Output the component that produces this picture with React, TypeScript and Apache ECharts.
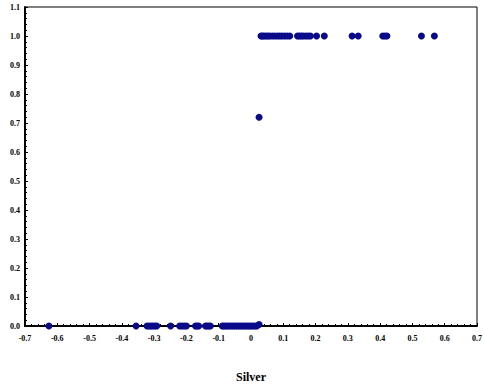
import React, { useEffect, useRef } from "react";
import * as echarts from "echarts";

const xTicks = { min: -0.7, max: 0.7, interval: 0.1 };
const yTicks = { min: 0, max: 1.1, interval: 0.1 };

const silverAtZero = [
  -0.626, -0.356, -0.322, -0.316, -0.31, -0.304, -0.298, -0.292, -0.249, -0.221,
  -0.214, -0.207, -0.2, -0.172, -0.167, -0.162, -0.141, -0.136, -0.131, -0.126,
  -0.089, -0.084, -0.078, -0.072, -0.066, -0.06, -0.054, -0.048, -0.042, -0.036,
  -0.03, -0.024, -0.018, -0.012, -0.006, 0, 0.006, 0.012, 0.018,
];
const silverAtOne = [
  0.031, 0.035, 0.04, 0.046, 0.052, 0.058, 0.066, 0.074, 0.082, 0.089, 0.096,
  0.104, 0.112, 0.12, 0.144, 0.15, 0.156, 0.162, 0.17, 0.177, 0.184, 0.203,
  0.227, 0.313, 0.332, 0.408, 0.415, 0.421, 0.528, 0.568,
];
const otherPoints: [number, number][] = [
  [0.025, 0.005],
  [0.025, 0.72],
];

export default function App() {
  const ref = useRef<HTMLDivElement>(null);
  useEffect(() => {
    if (!ref.current) return;
    const chart = echarts.init(ref.current, undefined, { renderer: "svg" });
    const data: [number, number][] = [
      ...silverAtZero.map((x) => [x, 0] as [number, number]),
      ...silverAtOne.map((x) => [x, 1] as [number, number]),
      ...otherPoints,
    ];
    const labelStyle = {
      fontFamily: "Liberation Serif",
      fontWeight: "bold" as const,
      fontSize: 8,
      color: "#000",
    };
    chart.setOption({
      animation: false,
      backgroundColor: "#fff",
      grid: {
        left: 25,
        right: 4,
        top: 7,
        bottom: 63,
        show: true,
        borderColor: "#000",
        borderWidth: 1,
      },
      xAxis: {
        type: "value",
        min: xTicks.min,
        max: xTicks.max,
        interval: xTicks.interval,
        name: "Silver",
        nameLocation: "middle",
        nameGap: 45,
        nameTextStyle: {
          fontFamily: "Liberation Serif",
          fontWeight: "bold",
          fontSize: 12,
          color: "#000",
        },
        axisLine: { onZero: false, lineStyle: { color: "#000", width: 2 } },
        axisTick: { inside: true, length: 3, lineStyle: { color: "#000" } },
        minorTick: { show: true, splitNumber: 5, length: 2, lineStyle: { color: "#000" } },
        splitLine: { show: false },
        axisLabel: {
          ...labelStyle,
          margin: 8,
          showMaxLabel: true,
          showMinLabel: true,
          formatter: (v: number) => (Math.abs(v) < 1e-9 ? "0" : v.toFixed(1)),
        },
      },
      yAxis: {
        type: "value",
        min: yTicks.min,
        max: yTicks.max,
        interval: yTicks.interval,
        axisLine: { show: true, onZero: false, lineStyle: { color: "#000", width: 2 } },
        axisTick: { show: true, inside: true, length: 3, lineStyle: { color: "#000" } },
        minorTick: { show: true, splitNumber: 5, length: 2, lineStyle: { color: "#000" } },
        splitLine: { show: false },
        axisLabel: {
          ...labelStyle,
          margin: 5,
          showMaxLabel: true,
          showMinLabel: true,
          formatter: (v: number) => v.toFixed(1),
        },
      },
      series: [
        {
          type: "scatter",
          data,
          symbolSize: 7,
          itemStyle: { color: "#0a0a8a", opacity: 1 },
          clip: false,
        },
      ],
    });
    return () => chart.dispose();
  }, []);
  return (
    <div
      ref={ref}
      style={{ position: "fixed", left: 0, top: 0, width: 485, height: 389 }}
    />
  );
}
